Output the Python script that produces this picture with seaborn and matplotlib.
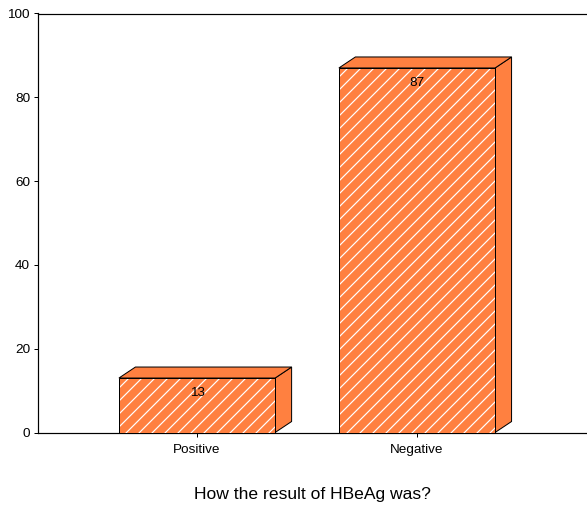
import matplotlib
matplotlib.use("Agg")
import matplotlib.pyplot as plt
from matplotlib.patches import Polygon, Rectangle
import seaborn as sns
import pandas as pd

categories = ["Positive", "Negative"]
values = [13, 87]
y_ticks = [0, 20, 40, 60, 80, 100]
x_title = "How the result of HBeAg was?"

DPI = 78
W, H = 587, 507
PX = 72.0 / DPI  # points per pixel

sns.set_theme(style="white")
plt.rcParams["font.family"] = ["Liberation Sans", "DejaVu Sans"]
plt.rcParams["hatch.linewidth"] = 1.2 * PX
plt.rcParams["hatch.color"] = "white"

orange = "#FF8040"

fig = plt.figure(figsize=(W / DPI, H / DPI), dpi=DPI)
ax = fig.add_axes([38 / W, (H - 432.5) / H, 549 / W, 419 / H])

df = pd.DataFrame({"category": categories, "value": values})
sns.barplot(data=df, x="category", y="value", ax=ax, color=orange,
            saturation=1, width=0.71, edgecolor="white", linewidth=0,
            hatch="//", zorder=3)

ax.set_xlim(-0.723, 1.773)
ax.set_ylim(0, 100)
ax.set_yticks(y_ticks)

# depth of the 3D faces, given in pixels and converted to data units
inv = ax.transData.inverted()
p0 = inv.transform((0, 0))
p1 = inv.transform((16.5, 11))
dx, dy = p1[0] - p0[0], p1[1] - p0[1]

lw = 1.0 * PX
for bar, v in zip(ax.patches, values):
    x0 = bar.get_x()
    w = bar.get_width()
    h = bar.get_height()
    x1 = x0 + w
    top = Polygon([(x0, h), (x0 + dx, h + dy), (x1 + dx, h + dy), (x1, h)],
                  closed=True, facecolor=orange, edgecolor="black",
                  linewidth=lw, zorder=2, clip_on=False)
    side = Polygon([(x1, 0), (x1 + dx, dy), (x1 + dx, h + dy), (x1, h)],
                   closed=True, facecolor=orange, edgecolor="black",
                   linewidth=lw, zorder=2, clip_on=False)
    ax.add_patch(side)
    ax.add_patch(top)
    ax.add_patch(Rectangle((x0, 0), w, h, fill=False, edgecolor="black",
                           linewidth=lw, zorder=4))
    ax.annotate(str(v), xy=(x0 + w / 2, h), xytext=(0, -15 * PX),
                textcoords="offset points", ha="center", va="center",
                fontsize=13.5 * PX, color="black", zorder=5)

for side_name in ["left", "top", "bottom"]:
    ax.spines[side_name].set_visible(True)
    ax.spines[side_name].set_color("black")
    ax.spines[side_name].set_linewidth(1.2 * PX)
ax.spines["right"].set_visible(False)

ax.tick_params(axis="y", which="major", left=True, length=4 * PX,
               width=1 * PX, color="black", labelcolor="black",
               labelsize=13.5 * PX, pad=4 * PX)
ax.tick_params(axis="x", which="major", bottom=True, length=4 * PX,
               width=1 * PX, color="black", labelcolor="black",
               labelsize=13.5 * PX, pad=7.5 * PX)
ax.grid(False)
ax.set_ylabel("")
ax.set_xlabel(x_title, fontsize=17.5 * PX, labelpad=31 * PX, color="black")

fig.savefig("out.png", dpi=DPI)
